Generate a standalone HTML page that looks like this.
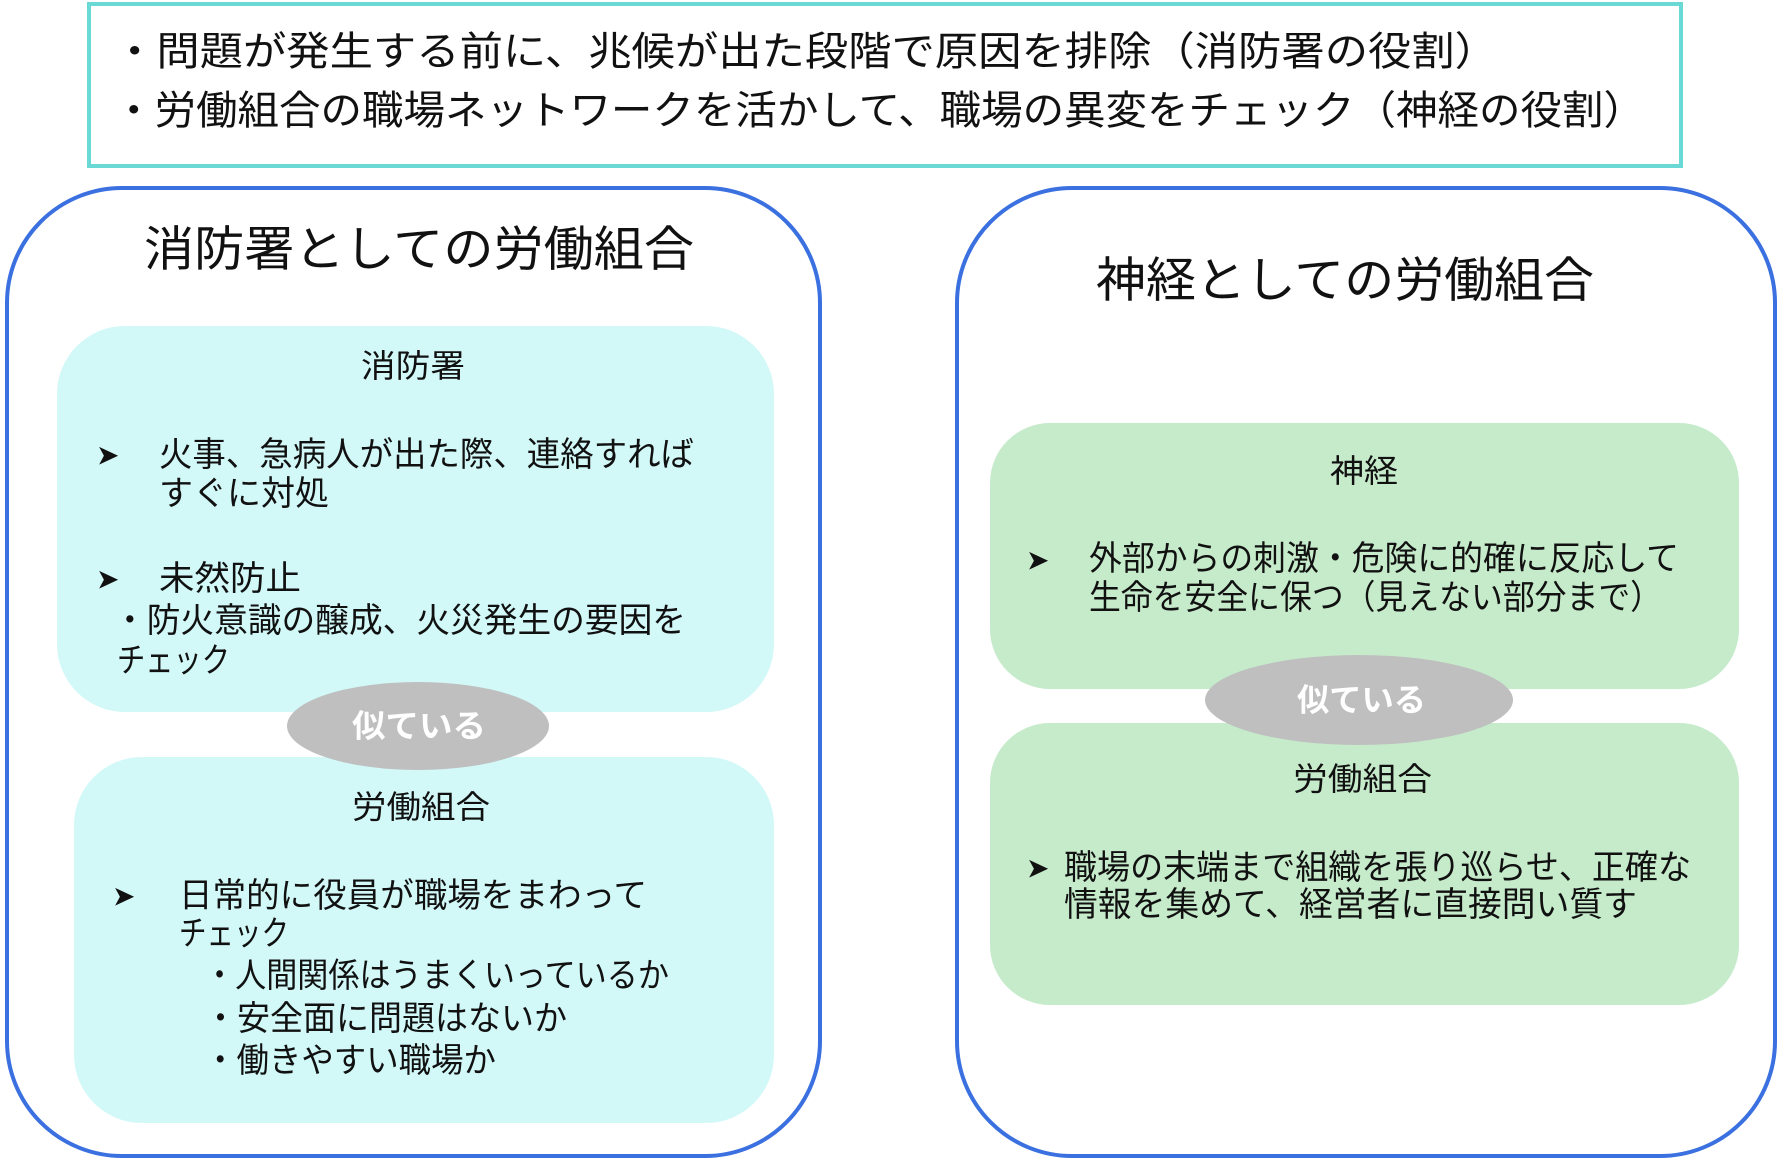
<!DOCTYPE html>
<html><head><meta charset="utf-8"><style>
html,body{margin:0;padding:0;background:#fff;}
svg{display:block;}
text{font-family:"Liberation Sans","Noto Sans CJK JP",sans-serif;fill:#111;dominant-baseline:central;}
</style></head><body>
<svg width="1779" height="1161" viewBox="0 0 1779 1161" xmlns="http://www.w3.org/2000/svg">
<rect x="0" y="0" width="1779" height="1161" fill="#fff"/>
<!-- top box -->
<rect x="89" y="4" width="1592" height="162" fill="#fff" stroke="#6ad8d4" stroke-width="4"/>
<text x="113" y="52" font-size="40" textLength="1385" lengthAdjust="spacingAndGlyphs">・問題が発生する前に、兆候が出た段階で原因を排除（消防署の役割）</text>
<text x="113" y="111" font-size="40" textLength="1532" lengthAdjust="spacingAndGlyphs">・労働組合の職場ネットワークを活かして、職場の異変をチェック（神経の役割）</text>

<!-- big containers -->
<rect x="7" y="188" width="813" height="968" rx="115" ry="115" fill="#fff" stroke="#3b70e0" stroke-width="4"/>
<rect x="957" y="188" width="818" height="968" rx="115" ry="115" fill="#fff" stroke="#3b70e0" stroke-width="4"/>
<text x="144" y="250" font-size="48" textLength="550" lengthAdjust="spacingAndGlyphs">消防署としての労働組合</text>
<text x="1096" y="281" font-size="48" textLength="498" lengthAdjust="spacingAndGlyphs">神経としての労働組合</text>

<!-- left inner -->
<rect x="57" y="326" width="717" height="386" rx="68" ry="68" fill="#d2f8f8"/>
<rect x="74" y="757" width="700" height="366" rx="68" ry="68" fill="#d2f8f8"/>
<ellipse cx="418" cy="726" rx="131" ry="44" fill="#bfbfbf"/>
<text x="352" y="726" font-size="32" font-weight="bold" style="fill:#fff" textLength="134" lengthAdjust="spacingAndGlyphs">似ている</text>

<text x="361" y="366" font-size="32" textLength="104" lengthAdjust="spacingAndGlyphs">消防署</text>
<text x="96" y="455" font-size="28">➤</text>
<text x="159" y="455" font-size="34" textLength="535" lengthAdjust="spacingAndGlyphs">火事、急病人が出た際、連絡すれば</text>
<text x="159" y="494" font-size="34" textLength="170" lengthAdjust="spacingAndGlyphs">すぐに対処</text>
<text x="96" y="579" font-size="28">➤</text>
<text x="159" y="579" font-size="34" textLength="142" lengthAdjust="spacingAndGlyphs">未然防止</text>
<text x="113" y="621" font-size="34" textLength="573" lengthAdjust="spacingAndGlyphs">・防火意識の醸成、火災発生の要因を</text>
<text x="117" y="661" font-size="34" textLength="113" lengthAdjust="spacingAndGlyphs">チェック</text>

<text x="352" y="807" font-size="32" textLength="138" lengthAdjust="spacingAndGlyphs">労働組合</text>
<text x="112" y="896" font-size="28">➤</text>
<text x="179" y="896" font-size="34" textLength="468" lengthAdjust="spacingAndGlyphs">日常的に役員が職場をまわって</text>
<text x="179" y="934" font-size="34" textLength="110" lengthAdjust="spacingAndGlyphs">チェック</text>
<text x="204" y="976" font-size="34" textLength="465" lengthAdjust="spacingAndGlyphs">・人間関係はうまくいっているか</text>
<text x="204" y="1019" font-size="34" textLength="363" lengthAdjust="spacingAndGlyphs">・安全面に問題はないか</text>
<text x="204" y="1061" font-size="34" textLength="292" lengthAdjust="spacingAndGlyphs">・働きやすい職場か</text>

<!-- right inner -->
<rect x="990" y="423" width="749" height="266" rx="60" ry="60" fill="#c6ebcb"/>
<rect x="990" y="723" width="749" height="282" rx="60" ry="60" fill="#c6ebcb"/>
<ellipse cx="1359" cy="700" rx="154" ry="45" fill="#bfbfbf"/>
<text x="1297" y="700" font-size="32" font-weight="bold" style="fill:#fff" textLength="129" lengthAdjust="spacingAndGlyphs">似ている</text>

<text x="1330" y="471" font-size="32" textLength="68" lengthAdjust="spacingAndGlyphs">神経</text>
<text x="1026" y="560" font-size="28">➤</text>
<text x="1089" y="559" font-size="34" textLength="590" lengthAdjust="spacingAndGlyphs">外部からの刺激・危険に的確に反応して</text>
<text x="1089" y="598" font-size="34" textLength="573" lengthAdjust="spacingAndGlyphs">生命を安全に保つ（見えない部分まで）</text>

<text x="1293" y="779" font-size="32" textLength="139" lengthAdjust="spacingAndGlyphs">労働組合</text>
<text x="1026" y="868" font-size="28">➤</text>
<text x="1064" y="868" font-size="34" textLength="627" lengthAdjust="spacingAndGlyphs">職場の末端まで組織を張り巡らせ、正確な</text>
<text x="1064" y="905" font-size="34" textLength="573" lengthAdjust="spacingAndGlyphs">情報を集めて、経営者に直接問い質す</text>
</svg>
</body></html>
